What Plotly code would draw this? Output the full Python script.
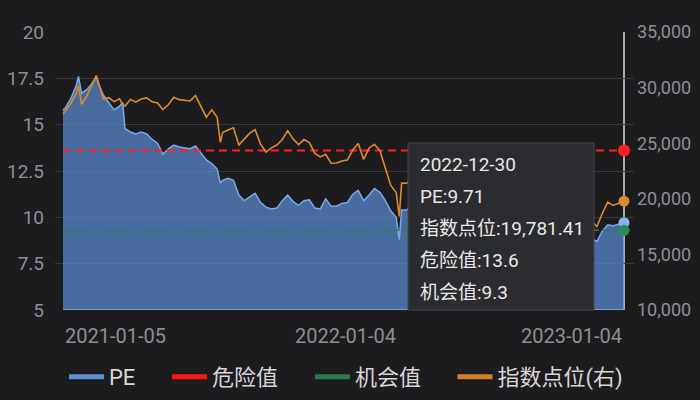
import plotly.graph_objects as go
import pandas as pd

# ---------------- data ----------------
dates = [
    "2021-01-05", "2021-01-08", "2021-01-15", "2021-01-22", "2021-01-25", "2021-01-29",
    "2021-02-05", "2021-02-11", "2021-02-17", "2021-02-19", "2021-02-26",
    "2021-03-05", "2021-03-12", "2021-03-19", "2021-03-23", "2021-03-26",
    "2021-04-02", "2021-04-09", "2021-04-16", "2021-04-23", "2021-04-30",
    "2021-05-07", "2021-05-14", "2021-05-21", "2021-05-28",
    "2021-06-04", "2021-06-11", "2021-06-18", "2021-06-25",
    "2021-07-02", "2021-07-09", "2021-07-16", "2021-07-23", "2021-07-27", "2021-07-30",
    "2021-08-06", "2021-08-13", "2021-08-20", "2021-08-27",
    "2021-09-03", "2021-09-10", "2021-09-17", "2021-09-24",
    "2021-10-01", "2021-10-08", "2021-10-15", "2021-10-22", "2021-10-29",
    "2021-11-05", "2021-11-12", "2021-11-19", "2021-11-26",
    "2021-12-03", "2021-12-10", "2021-12-17", "2021-12-24", "2021-12-31",
    "2022-01-07", "2022-01-14", "2022-01-21", "2022-01-28",
    "2022-02-04", "2022-02-11", "2022-02-18", "2022-02-25",
    "2022-03-04", "2022-03-11", "2022-03-15", "2022-03-18", "2022-03-25",
    "2022-04-01", "2022-04-08", "2022-04-14", "2022-04-22", "2022-04-29",
    "2022-05-06", "2022-05-13", "2022-05-20", "2022-05-27",
    "2022-06-03", "2022-06-10", "2022-06-17", "2022-06-24",
    "2022-07-01", "2022-07-08", "2022-07-15", "2022-07-22", "2022-07-29",
    "2022-08-05", "2022-08-12", "2022-08-19", "2022-08-26",
    "2022-09-02", "2022-09-09", "2022-09-16", "2022-09-23", "2022-09-30",
    "2022-10-07", "2022-10-14", "2022-10-21", "2022-10-28",
    "2022-11-04", "2022-11-11", "2022-11-18", "2022-11-25",
    "2022-12-02", "2022-12-09", "2022-12-16", "2022-12-23", "2022-12-30",
]

pe = [
    15.8, 15.9, 16.4, 17.1, 17.6, 16.7,
    16.9, 17.2, 17.6, 17.3, 16.6,
    16.2, 15.8, 16.0, 16.2, 14.8,
    14.6, 14.5, 14.6, 14.5, 14.2,
    14.0, 13.4, 13.7, 13.9,
    13.8, 13.75, 13.7, 13.85,
    13.45, 13.1, 12.9, 12.6, 11.85, 12.0,
    12.1, 12.0, 11.2, 10.9,
    11.1, 11.3, 10.8, 10.55,
    10.45, 10.5, 10.9, 11.2, 10.85,
    10.65, 10.9, 10.95, 10.5,
    10.45, 11.0, 10.6, 10.6, 10.75,
    10.8, 11.25, 11.45, 10.9,
    11.2, 11.55, 11.35, 10.9,
    10.35, 10.0, 8.8, 10.4, 10.4,
    10.85, 10.77, 10.6, 10.17, 10.39,
    9.85, 9.8, 10.2, 10.2,
    10.38, 10.74, 10.38, 10.7,
    10.77, 10.7, 10.0, 10.15, 9.93,
    9.95, 9.94, 9.74, 9.94,
    9.58, 9.54, 9.24, 8.83, 8.48,
    8.74, 8.17, 7.99, 7.32,
    7.96, 8.53, 8.86, 8.7,
    9.25, 9.6, 9.55, 9.62, 9.71,
]

index_pts = [
    27649, 27878, 28574, 29447, 30159, 28500,
    29289, 30174, 31084, 30645, 28980,
    29099, 28740, 28990, 28500, 28336,
    28939, 28699, 28970, 29078, 28725,
    28610, 28027, 28458, 29124,
    28918, 28842, 28801, 29288,
    28310, 27344, 28006, 27321, 25086, 25961,
    26179, 26391, 24849, 25408,
    25901, 26205, 24920, 24192,
    24576, 24838, 25331, 26126, 25377,
    24871, 25327, 25050, 24081,
    23767, 23996, 23193, 23223, 23398,
    23493, 24383, 24966, 23550,
    24573, 24906, 24328, 22767,
    21200, 20554, 18415, 21412, 21405,
    22039, 21872, 21518, 20639, 21089,
    20002, 19899, 20717, 20697,
    21082, 21806, 21075, 21719,
    21860, 21725, 20297, 20609, 20156,
    20202, 20175, 19773, 20170,
    19452, 19362, 18762, 17933, 17223,
    17740, 16588, 16211, 14863,
    16161, 17326, 17993, 17500,
    18675, 19700, 19400, 19593, 19781.41,
]

danger_value = 13.6
chance_value = 9.3

series_names = ["PE", "危险值", "机会值", "指数点位(右)"]
x_tick_labels = ["2021-01-05", "2022-01-04", "2023-01-04"]

# ---------------- style ----------------
FONT = "Roboto, 'Noto Sans CJK SC', sans-serif"
BG = "#1c1c1e"
GRID = "#38393c"
TICK = "#8e8e93"
C_PE = "#78a9e8"
C_PE_FILL = "rgba(91,143,214,0.70)"
C_RED = "#ff1f1f"
C_GREEN = "#2e7d52"
C_ORANGE = "#dc8a2c"

n = len(dates)
danger = [danger_value] * n
chance = [chance_value] * n

fig = go.Figure()

fig.add_trace(go.Scatter(x=dates, y=pe, mode="lines", line=dict(color=C_PE, width=1.5),
                         fill="tozeroy", fillcolor=C_PE_FILL, showlegend=False, hoverinfo="skip"))
fig.add_trace(go.Scatter(x=dates, y=chance, mode="lines", line=dict(color=C_GREEN, width=1.5, dash="6px,4px"),
                         showlegend=False, hoverinfo="skip"))
fig.add_trace(go.Scatter(x=dates, y=danger, mode="lines", line=dict(color=C_RED, width=2, dash="8px,5px"),
                         showlegend=False, hoverinfo="skip"))
fig.add_trace(go.Scatter(x=[dates[-1]], y=[danger_value], mode="markers",
                         marker=dict(color=C_RED, size=12), showlegend=False, hoverinfo="skip"))
fig.add_trace(go.Scatter(x=[dates[-1]], y=[pe[-1]], mode="markers",
                         marker=dict(color="#86b2ea", size=11), showlegend=False, hoverinfo="skip"))
fig.add_trace(go.Scatter(x=[dates[-1]], y=[chance_value], mode="markers",
                         marker=dict(color="#2f8a58", size=11), showlegend=False, hoverinfo="skip"))
fig.add_trace(go.Scatter(x=dates, y=index_pts, mode="lines", line=dict(color=C_ORANGE, width=1.6),
                         yaxis="y2", showlegend=False, hoverinfo="skip"))
fig.add_trace(go.Scatter(x=[dates[-1]], y=[index_pts[-1]], mode="markers", yaxis="y2",
                         marker=dict(color=C_ORANGE, size=11), showlegend=False, hoverinfo="skip"))

# legend entries (one legend each for precise spacing)
legend_colors = ["#5b8fd6", "#ff1414", "#2b7a4b", "#d4802a"]
legend_ids = ["legend", "legend2", "legend3", "legend4"]
legend_x = [0.0155, 0.1935, 0.4405, 0.6865]
for name, col, lid in zip(series_names, legend_colors, legend_ids):
    fig.add_trace(go.Scatter(x=[None], y=[None], mode="lines", name=name,
                             line=dict(color=col, width=5), legend=lid, showlegend=True))

legend_common = dict(orientation="h", y=-0.241, yanchor="middle", xanchor="left",
                     font=dict(family=FONT, size=22, color="#d6d6d6"),
                     bgcolor="rgba(0,0,0,0)", itemwidth=35)

start = pd.Timestamp(dates[0])
end = pd.Timestamp(dates[-1])

layout_legends = {lid: dict(legend_common, x=lx) for lid, lx in zip(legend_ids, legend_x)}

fig.update_layout(
    width=700, height=400,
    margin=dict(l=55, r=66, t=32, b=90, autoexpand=False),
    paper_bgcolor=BG, plot_bgcolor=BG,
    font=dict(family=FONT, color=TICK),
    showlegend=True,
    xaxis=dict(type="date", range=[start - pd.Timedelta(days=10.3), end + pd.Timedelta(days=12.9)],
               showgrid=False, showticklabels=False, zeroline=False, showline=False, ticks=""),
    yaxis=dict(range=[5, 20], tickmode="linear", tick0=5, dtick=2.5, showgrid=True,
               gridcolor=GRID, gridwidth=1, zeroline=False, showline=False,
               tickfont=dict(family=FONT, size=19, color=TICK), ticklabelstandoff=10),
    yaxis2=dict(range=[10000, 35000], tickmode="linear", tick0=10000, dtick=5000, overlaying="y",
                side="right", showgrid=False, zeroline=False, showline=False, tickformat=",",
                tickfont=dict(family=FONT, size=18, color=TICK), ticklabelstandoff=2),
    **layout_legends,
)

# bottom edge line under the data, crosshair, tooltip
fig.add_shape(type="line", xref="x", yref="y", x0=dates[0], x1=dates[-1], y0=5, y1=5,
              line=dict(color="#8fb3e6", width=1.5), layer="above")
fig.add_shape(type="line", xref="x", yref="paper", x0=dates[-1], x1=dates[-1], y0=0, y1=1,
              line=dict(color="#d9d9d9", width=1.5), layer="between")

tip_x0 = (408 - 55) / 579
tip_x1 = (594 - 55) / 579
tip_top = (310 - 143) / 278
fig.add_shape(type="rect", xref="paper", yref="paper", x0=tip_x0, x1=tip_x1, y0=0, y1=tip_top,
              fillcolor="#2b2c2f", line=dict(color="#45464a", width=1), layer="above")

tip_lines = [
    dates[-1],
    f"PE:{pe[-1]:.2f}",
    f"指数点位:{index_pts[-1]:,.2f}",
    f"危险值:{danger_value}",
    f"机会值:{chance_value}",
]
for i, t in enumerate(tip_lines):
    ypx = 164 + 32 * i
    fig.add_annotation(text=t, xref="paper", yref="paper", x=(418 - 55) / 579, y=(310 - ypx) / 278,
                       xanchor="left", yanchor="middle", showarrow=False,
                       font=dict(family=FONT, size=19, color="#e8e8e8"))

# x-axis labels
x_label_pos = [(dates[0], "left"), (x_tick_labels[1], "center"), (dates[-1], "right")]
for lab, (xv, anc) in zip(x_tick_labels, x_label_pos):
    fig.add_annotation(text=lab, xref="x", yref="paper", x=xv, y=0, yanchor="top", yshift=-12,
                       xanchor=anc, showarrow=False, font=dict(family=FONT, size=20, color=TICK))

fig.write_html("out.html")
